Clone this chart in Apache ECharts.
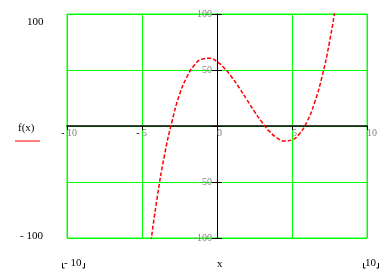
<!DOCTYPE html>
<html>
<head>
<meta charset="utf-8">
<script src="https://cdn.jsdelivr.net/npm/echarts@6/dist/echarts.min.js"></script>
<style>
html,body{margin:0;padding:0;background:#fff;}
#c{width:392px;height:271px;}
</style>
</head>
<body>
<div id="c"></div>
<script>
// Data
const xValues = [-4.4, -4, -3.5, -3, -2.5, -2, -1.5, -1, -0.5, 0, 0.5, 1, 1.5, 2, 2.5, 3, 3.5, 4, 4.5, 5, 5.5, 6, 6.5, 7, 7.5, 8];
const fValues = [-103, -65, -26, 4, 28, 44, 54.5, 59.7, 60.5, 57.5, 51.5, 43.3, 33.7, 23.3, 12.9, 3.3, -4.8, -10.6, -13.4, -12.4, -6.9, 3.8, 20.6, 44, 75, 115];
const xRange = [-10, 10];
const yRange = [-100, 100];
const xStep = 5;
const yStep = 50;
const seriesName = 'f(x)';
const xName = 'x';

const chart = echarts.init(document.getElementById('c'), null, {renderer: 'canvas'});
const serif = 'Liberation Serif, Times New Roman, serif';
const green = '#00ff00';
const gray = '#808080';

const G = {left: 67, top: 14, width: 300, height: 224};
// offsets so that the axes sit on the zero lines
const xOff = -G.height * (0 - yRange[0]) / (yRange[1] - yRange[0]);
const yOff = -G.width * (0 - xRange[0]) / (xRange[1] - xRange[0]);

const data = xValues.map((x, i) => [x, fValues[i]]);

chart.setOption({
  animation: false,
  backgroundColor: '#fff',
  grid: Object.assign({show: true, borderColor: green, borderWidth: 1, backgroundColor: 'transparent'}, G),
  xAxis: [
    {
      type: 'value', min: xRange[0], max: xRange[1], interval: xStep, position: 'bottom', offset: xOff,
      axisLine: {onZero: false, lineStyle: {color: '#000', width: 1.5}},
      axisTick: {show: true, length: 4, lineStyle: {color: '#000', width: 1}},
      axisLabel: {align: 'left', margin: 2, color: gray, fontFamily: serif, fontSize: 10,
        showMinLabel: true, showMaxLabel: true,
        formatter: v => String(Math.abs(v))},
      splitLine: {show: true, lineStyle: {color: green, width: 1}}
    },
    {
      type: 'value', min: xRange[0], max: xRange[1], interval: xStep, position: 'bottom', offset: xOff,
      axisLine: {show: true, onZero: false, lineStyle: {color: '#000', opacity: 0}},
      axisTick: {show: false},
      axisLabel: {align: 'right', margin: 2, color: '#000', fontFamily: serif, fontSize: 10,
        showMinLabel: true, showMaxLabel: true,
        formatter: v => (v < 0 ? '- ' : '')},
      splitLine: {show: false}
    }
  ],
  yAxis: [
    {
      type: 'value', min: yRange[0], max: yRange[1], interval: yStep, position: 'left', offset: yOff,
      axisLine: {onZero: false, lineStyle: {color: '#000', width: 1}},
      axisTick: {show: true, length: 5, lineStyle: {color: '#000', width: 1}},
      axisLabel: {margin: 5, color: gray, fontFamily: serif, fontSize: 10,
        showMinLabel: true, showMaxLabel: true,
        formatter: v => (v === 0 ? '' : String(v))},
      splitLine: {show: true, lineStyle: {color: green, width: 1}}
    },
    {
      type: 'value', min: yRange[0], max: yRange[1], interval: yStep, position: 'left', offset: yOff,
      axisLine: {show: true, onZero: false, lineStyle: {color: '#000', opacity: 0}},
      axisTick: {show: true, inside: true, length: 5, lineStyle: {color: '#000', width: 1}},
      axisLabel: {show: false},
      splitLine: {show: false}
    }
  ],
  series: [{
    name: seriesName,
    type: 'line',
    xAxisIndex: 0, yAxisIndex: 0,
    data: data,
    smooth: true,
    showSymbol: false,
    clip: true,
    lineStyle: {color: '#ff0000', width: 1.5, type: [4, 2]}
  }],
  graphic: [
    {type: 'text', left: 27, top: 17, style: {text: String(yRange[1]), font: '11px ' + serif, fill: '#000'}},
    {type: 'text', left: 20, top: 231, style: {text: '- ' + Math.abs(yRange[0]), font: '11px ' + serif, fill: '#000'}},
    {type: 'text', left: 18, top: 123, style: {text: seriesName, font: '11px ' + serif, fill: '#000'}},
    {type: 'line', shape: {x1: 15, y1: 141, x2: 40, y2: 141}, style: {stroke: '#ff0000', lineWidth: 1}},
    {type: 'text', left: 217, top: 259, style: {text: xName, font: '11px ' + serif, fill: '#000'}},
    {type: 'text', left: 64, top: 258, style: {text: '- ' + Math.abs(xRange[0]), font: '11px ' + serif, fill: '#000'}},
    {type: 'polyline', shape: {points: [[62.5, 263], [62.5, 268], [64.5, 268]]}, style: {stroke: '#000', lineWidth: 1, fill: null}},
    {type: 'polyline', shape: {points: [[82.5, 268], [84.5, 268], [84.5, 263]]}, style: {stroke: '#000', lineWidth: 1, fill: null}},
    {type: 'text', left: 365, top: 258, style: {text: String(xRange[1]), font: '11px ' + serif, fill: '#000'}},
    {type: 'polyline', shape: {points: [[363.5, 263], [363.5, 268], [365.5, 268]]}, style: {stroke: '#000', lineWidth: 1, fill: null}},
    {type: 'polyline', shape: {points: [[376.5, 268], [378.5, 268], [378.5, 263]]}, style: {stroke: '#000', lineWidth: 1, fill: null}}
  ]
});
</script>
</body>
</html>
